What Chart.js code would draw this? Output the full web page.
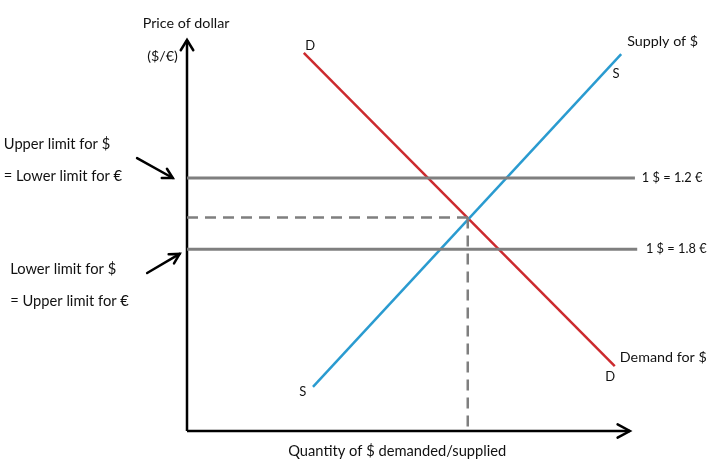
<!DOCTYPE html>
<html>
<head>
<meta charset="utf-8">
<script src="https://cdn.jsdelivr.net/npm/chart.js@4.4.0/dist/chart.umd.min.js"></script>
<style>
  html, body { margin: 0; background: #fff; }
</style>
</head>
<body>
<canvas id="fx" width="715" height="468"></canvas>
<script>
// ─── data (quantity on x, price on y, both 0-100 units) ───
const supplyQ = [27.5, 94.8];
const supplyP = [11.3, 96.4];
const demandQ = [25.5, 93.4];
const demandP = [96.7, 16.6];
const eqQ = 61.3;
const eqP = 54.6;
const limitLabels = ['1 $ = 1.2 €', '1 $ = 1.8 €'];
const limitPrices = [64.7, 46.5];
const limitEnds = [97.8, 98.3];
const axisQmax = 96.7;
const axisPmax = 100;

const GRAY = '#7f7f7f';
const BLUE = '#2a9bd0';
const RED = '#cc2a2e';
const FONT = 'Lato, "Open Sans", sans-serif';

const pts = (xs, ys) => xs.map((x, i) => ({ x, y: ys[i] }));

function lineSet(data, color, width, extra) {
  return Object.assign({
    data, borderColor: color, borderWidth: width, showLine: true,
    pointRadius: 0, pointHoverRadius: 0, tension: 0, clip: false, fill: false,
  }, extra || {});
}

// text + arrow annotations, placed in data units and mapped through the scales
const notes = [
  { t: 'Price of dollar', q: -0.2, p: 104.3, a: 'center', s: 14.3 },
  { t: '($/€)', q: -2.0, p: 95.7, a: 'right', s: 14.3 },
  { t: 'Upper limit for $', q: -40.0, p: 73.4, a: 'left', s: 14.7 },
  { t: '= Lower limit for €', q: -40.0, p: 65.2, a: 'left', s: 14.7 },
  { t: 'Lower limit for $', q: -38.6, p: 41.4, a: 'left', s: 14.7 },
  { t: '= Upper limit for €', q: -38.6, p: 33.2, a: 'left', s: 14.7 },
  { t: 'Supply of $', q: 96.1, p: 99.7, a: 'left', s: 14.3 },
  { t: 'S', q: 93.7, p: 91.3, a: 'center', s: 13 },
  { t: 'S', q: 25.3, p: 10.0, a: 'center', s: 13 },
  { t: 'D', q: 26.9, p: 98.5, a: 'center', s: 13 },
  { t: 'D', q: 92.4, p: 13.8, a: 'center', s: 13 },
  { t: 'Demand for $', q: 94.5, p: 18.9, a: 'left', s: 14.3 },
  { t: limitLabels[0], q: 99.3, p: limitPrices[0], a: 'left', s: 12.8 },
  { t: limitLabels[1], q: 100.2, p: limitPrices[1] + 0.2, a: 'left', s: 12.8 },
  { t: 'Quantity of $ demanded/supplied', q: 22.1, p: -5.1, a: 'left', s: 14.7 },
];
const pointers = [
  { from: [-10.9, 69.8], to: [-3.1, 64.7] },
  { from: [-8.7, 40.4], to: [-1.6, 45.3] },
];

function chevron(ctx, tx, ty, ang, len, spread) {
  ctx.beginPath();
  ctx.moveTo(tx - len * Math.cos(ang - spread), ty - len * Math.sin(ang - spread));
  ctx.lineTo(tx, ty);
  ctx.lineTo(tx - len * Math.cos(ang + spread), ty - len * Math.sin(ang + spread));
  ctx.stroke();
}

const annotate = {
  id: 'annotate',
  afterDatasetsDraw(chart) {
    const { ctx, scales: { x, y } } = chart;
    ctx.save();
    ctx.strokeStyle = '#000';
    ctx.lineCap = 'round';
    ctx.lineJoin = 'miter';

    // axis arrow heads
    ctx.lineWidth = 2.5;
    chevron(ctx, x.getPixelForValue(0), y.getPixelForValue(axisPmax), -Math.PI / 2, 12, 0.55);
    chevron(ctx, x.getPixelForValue(axisQmax), y.getPixelForValue(0), 0, 14, 0.5);

    // pointer arrows
    pointers.forEach(({ from, to }) => {
      const x0 = x.getPixelForValue(from[0]), y0 = y.getPixelForValue(from[1]);
      const x1 = x.getPixelForValue(to[0]), y1 = y.getPixelForValue(to[1]);
      ctx.lineWidth = 2.5;
      ctx.beginPath();
      ctx.moveTo(x0, y0);
      ctx.lineTo(x1, y1);
      ctx.stroke();
      chevron(ctx, x1, y1, Math.atan2(y1 - y0, x1 - x0), 11, 0.5);
    });

    // labels
    ctx.fillStyle = '#111';
    ctx.textBaseline = 'middle';
    notes.forEach((n) => {
      ctx.font = `${n.s}px ${FONT}`;
      ctx.textAlign = n.a;
      ctx.fillText(n.t, x.getPixelForValue(n.q), y.getPixelForValue(n.p));
    });
    ctx.restore();
  },
};

new Chart(document.getElementById('fx'), {
  type: 'scatter',
  data: {
    datasets: [
      lineSet(pts([0, limitEnds[0]], [limitPrices[0], limitPrices[0]]), GRAY, 3),
      lineSet(pts([0, limitEnds[1]], [limitPrices[1], limitPrices[1]]), GRAY, 3),
      lineSet(pts([0, eqQ], [eqP, eqP]), GRAY, 2.5, { borderDash: [11, 7] }),
      lineSet(pts([eqQ, eqQ], [eqP, 0]), GRAY, 2.5, { borderDash: [11, 7] }),
      lineSet(pts(supplyQ, supplyP), BLUE, 2.5),
      lineSet(pts(demandQ, demandP), RED, 2.5),
      lineSet(pts([0, 0], [0, axisPmax]), '#000', 2.5),
      lineSet(pts([0, axisQmax], [0, 0]), '#000', 2.5),
    ],
  },
  options: {
    responsive: false,
    animation: false,
    events: [],
    layout: { padding: { left: 187, right: 70, top: 40, bottom: 37 } },
    scales: {
      x: { type: 'linear', min: 0, max: 100, display: false },
      y: { type: 'linear', min: 0, max: 100, display: false },
    },
    plugins: { legend: { display: false }, tooltip: { enabled: false } },
  },
  plugins: [annotate],
});
</script>
</body>
</html>
